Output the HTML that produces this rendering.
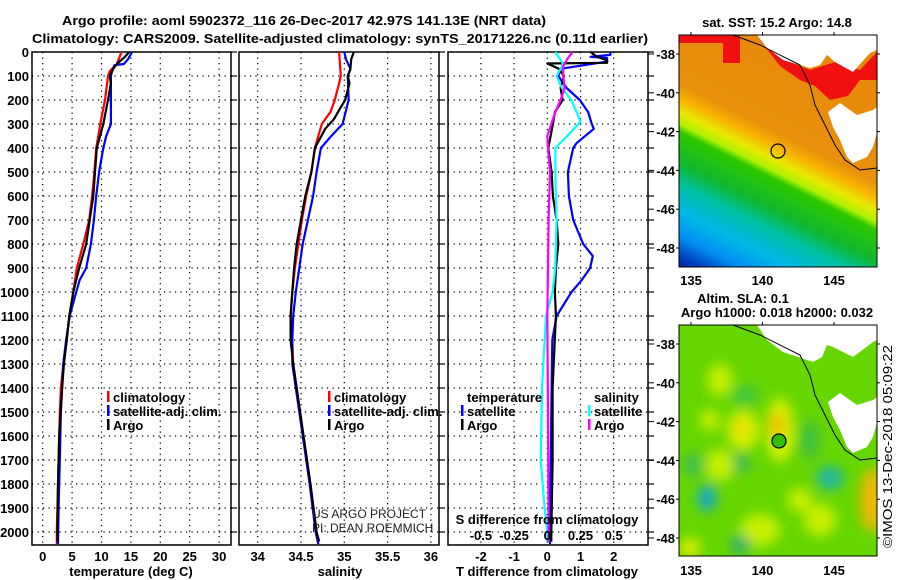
<!DOCTYPE html>
<html><head><meta charset="utf-8"><style>
html,body{margin:0;padding:0;background:#fff;width:900px;height:580px;overflow:hidden}
svg{display:block;font-family:"Liberation Sans",sans-serif}
.b{font-weight:bold;font-size:13px}
</style></head><body>
<svg id="chart" width="900" height="580" viewBox="0 0 900 580" xmlns="http://www.w3.org/2000/svg">
<defs>
<linearGradient id="sstGrad" gradientUnits="userSpaceOnUse" x1="800" y1="40" x2="640" y2="360">
<stop offset="0" stop-color="#e8880a"/>
<stop offset="0.26" stop-color="#e8900c"/><stop offset="0.30" stop-color="#f8b800"/>
<stop offset="0.33" stop-color="#e8e800"/><stop offset="0.36" stop-color="#b0f000"/>
<stop offset="0.38" stop-color="#30c800"/>
<stop offset="0.46" stop-color="#10b830"/><stop offset="0.51" stop-color="#00c0a0"/>
<stop offset="0.58" stop-color="#00b8e8"/><stop offset="0.64" stop-color="#0090f0"/>
<stop offset="0.69" stop-color="#0040c0"/><stop offset="0.73" stop-color="#001880"/>
</linearGradient>
<filter id="blur6"><feGaussianBlur stdDeviation="6"/></filter>
<clipPath id="clipMap1"><rect x="679" y="35" width="198" height="232"/></clipPath>
<clipPath id="clipMap2"><rect x="679" y="325" width="198" height="231"/></clipPath>
</defs>

<text class="b" x="62" y="25" font-size="14" textLength="484" lengthAdjust="spacingAndGlyphs">Argo profile: aoml 5902372_116 26-Dec-2017 42.97S 141.13E (NRT data)</text>
<text class="b" x="32" y="43" font-size="14" textLength="616" lengthAdjust="spacingAndGlyphs">Climatology: CARS2009. Satellite-adjusted climatology: synTS_20171226.nc (0.11d earlier)</text>

<g id="p1"></g>
<g id="p2"></g>
<g id="p3"></g>

<!-- SST map -->
<g>
<g clip-path="url(#clipMap1)">
<rect x="679" y="35" width="198" height="232" fill="url(#sstGrad)"/>
<polygon fill="#f01010" points="679,35 740,35 740,63 723,63 723,43 679,43"/>
<polygon fill="#f01010" points="760,40 790,62 810,70 835,62 860,70 877,52 877,80 860,80 848,96 830,100 815,86 800,80 780,66"/>
</g>
</g>
<text class="b" x="777" y="27" text-anchor="middle">sat. SST: 15.2 Argo: 14.8</text>

<!-- SLA map -->
<g>
<g clip-path="url(#clipMap2)">
<rect x="679" y="325" width="198" height="231" fill="#66d600"/>
<g filter="url(#blur6)">
<ellipse cx="720" cy="380" rx="12" ry="16" fill="#c8f000"/>
<ellipse cx="745" cy="395" rx="14" ry="10" fill="#40c840"/>
<ellipse cx="743" cy="430" rx="16" ry="20" fill="#d8f000"/>
<ellipse cx="780" cy="430" rx="14" ry="32" fill="#d8f000"/>
<ellipse cx="777" cy="425" rx="8" ry="12" fill="#f0c000"/>
<ellipse cx="740" cy="428" rx="8" ry="8" fill="#e8d800"/>
<ellipse cx="740" cy="463" rx="10" ry="10" fill="#38b858"/>
<ellipse cx="720" cy="465" rx="14" ry="16" fill="#c8f000"/>
<ellipse cx="707" cy="498" rx="10" ry="14" fill="#20b0a8"/>
<ellipse cx="707" cy="498" rx="5" ry="7" fill="#10a0d8"/>
<ellipse cx="693" cy="465" rx="10" ry="12" fill="#40c050"/>
<ellipse cx="830" cy="478" rx="14" ry="12" fill="#20b8a0"/>
<ellipse cx="872" cy="500" rx="12" ry="32" fill="#f0b800"/>
<ellipse cx="760" cy="530" rx="20" ry="16" fill="#c8f000"/>
<ellipse cx="820" cy="520" rx="16" ry="16" fill="#c8f000"/>
<ellipse cx="690" cy="548" rx="10" ry="10" fill="#e0f000"/>
<ellipse cx="740" cy="545" rx="10" ry="10" fill="#30b070"/>
<ellipse cx="810" cy="440" rx="10" ry="20" fill="#40c040"/>
<ellipse cx="710" cy="420" rx="10" ry="10" fill="#c8f000"/>
<ellipse cx="800" cy="500" rx="12" ry="12" fill="#c8f000"/>
</g>
</g>
</g>
<text class="b" x="743" y="303" text-anchor="middle">Altim. SLA: 0.1</text>
<text class="b" x="777" y="317" text-anchor="middle">Argo h1000: 0.018 h2000: 0.032</text>
<text font-size="13" transform="translate(892,548) rotate(-90)" textLength="203" lengthAdjust="spacingAndGlyphs">©IMOS 13-Dec-2018 05:09:22</text>

<text x="312" y="518" font-size="12" fill="#222">US ARGO PROJECT</text>
<text x="312" y="532" font-size="12" fill="#222">PI: DEAN ROEMMICH</text>

<!-- land + overlays drawn last -->
<g>
<path fill="#ffffff" stroke="none" d="M757,35 L766,47 L783,60 L810,68 L820,65 L827,55 L835,62 L853,72 L870,53 L877,50 L877,35 Z"/>
<path fill="#ffffff" stroke="none" d="M828,112 L840,103 L857,115 L873,110 L877,107 L877,133 L873,147 L867,157 L853,163 L847,157 L840,140 L833,127 Z"/>
<polyline fill="none" stroke="#000" stroke-width="1" points="733,35 760,45 800,65 810,85 815,105 825,125 835,145 845,160 860,170 877,168"/>
<circle cx="778" cy="151" r="7" fill="none" stroke="#000" stroke-width="1.2"/>
<rect x="679" y="35" width="198" height="232" fill="none" stroke="#000" stroke-width="1"/>
</g>
<g>
<path fill="#ffffff" stroke="none" d="M757,325 L767,340 L783,352 L813,362 L822,357 L827,345 L833,347 L853,357 L873,342 L877,340 L877,325 Z"/>
<path fill="#ffffff" stroke="none" d="M828,402 L840,393 L857,405 L873,400 L877,397 L877,423 L873,437 L867,447 L853,453 L847,447 L840,430 L833,417 Z"/>
<polyline fill="none" stroke="#000" stroke-width="1" points="733,325 760,335 800,355 810,375 815,395 825,415 835,435 845,450 860,460 877,458"/>
<circle cx="779" cy="441" r="7" fill="#30c000" stroke="#000" stroke-width="1.2"/>
<rect x="679" y="325" width="198" height="231" fill="none" stroke="#000" stroke-width="1"/>
</g>
</svg>
<script>
// ---- data ----
const depthTicks = [0,100,200,300,400,500,600,700,800,900,1000,1100,1200,1300,1400,1500,1600,1700,1800,1900,2000];
const tempTicks = [0,5,10,15,20,25,30];
const salTicks = [34,34.5,35,35.5,36];
const salTickLabels = ["34","34.5","35","35.5","36"];
const tdiffTicks = [-2,-1,0,1,2];
const sdiffTicks = [-0.5,-0.25,0,0.25,0.5];
const sdiffTickLabels = ["-0.5","-0.25","0","0.25","0.5"];
const latTicks = [-38,-40,-42,-44,-46,-48];
const lonTicks = [135,140,145];

const climT_d=[0,50,80,100,200,300,400,500,600,700,800,900,1000,1100,1200,1300,1400,1500,1600,1800,2000,2050];
const climT=[13.4,12.6,11.4,11.1,10.6,9.8,9.1,8.8,8.4,7.9,6.9,5.8,5.2,4.6,4.0,3.5,3.1,2.9,2.8,2.6,2.4,2.4];
const satT_d=[0,30,50,55,80,100,200,300,350,400,500,600,700,800,900,950,1000,1100,1200,1300,1500,1700,1900,2050];
const satT=[15.2,14.5,13.8,12.2,11.8,11.6,11.6,11.6,10.8,10.3,9.6,9.1,8.7,8.2,7.4,6.3,5.7,4.6,4.0,3.5,3.1,2.9,2.7,2.6];
const argoT_d=[0,20,50,70,100,130,200,300,400,500,600,700,800,900,1000,1100,1200,1300,1400,1600,1800,2000,2040];
const argoT=[14.7,14.0,12.6,12.0,11.4,11.6,11.1,10.3,9.2,8.9,8.6,8.0,7.4,6.2,5.2,4.5,4.1,3.6,3.3,2.8,2.6,2.5,2.5];

const climS_d=[0,100,130,200,250,300,350,400,500,600,700,800,900,1000,1100,1200,1300,1500,1800,2000,2050];
const climS=[34.94,34.96,34.94,34.89,34.84,34.74,34.70,34.66,34.62,34.56,34.51,34.47,34.43,34.40,34.38,34.40,34.41,34.49,34.60,34.67,34.70];
const satS_d=[0,30,70,100,200,300,350,400,500,600,700,800,900,1000,1100,1200,1300,1500,1800,2000,2050];
const satS=[35.0,35.02,35.07,35.04,35.05,34.98,34.85,34.73,34.68,34.64,34.58,34.52,34.48,34.44,34.41,34.40,34.40,34.48,34.60,34.67,34.70];
const argoS_d=[0,30,70,100,130,200,230,280,320,400,500,600,700,800,900,1000,1100,1200,1300,1500,1800,2000,2040];
const argoS=[35.11,35.08,35.07,35.04,35.06,35.01,34.96,34.88,34.78,34.66,34.62,34.55,34.50,34.45,34.42,34.40,34.38,34.38,34.41,34.49,34.61,34.68,34.71];

const dTsat_d=[0,12,20,25,40,55,70,100,150,200,250,300,320,380,400,500,600,700,800,850,900,950,1000,1100,1200,1500,2000,2050];
const dTsat=[1.9,1.9,1.3,1.8,1.8,1.1,0.4,0.33,0.58,0.98,1.23,1.34,1.4,0.88,0.78,0.62,0.65,0.78,1.08,1.37,1.29,1.04,0.73,0.28,0.15,0.12,0.08,0.08];
const dTargo_d=[0,20,35,45,48,70,100,150,200,250,300,400,500,600,700,800,900,1000,1100,1400,1700,2000,2040];
const dTargo=[1.3,1.5,1.8,1.8,0.0,0.35,0.5,0.4,0.46,0.23,0.17,0.03,0.13,0.17,0.28,0.33,0.26,0.23,0.26,0.16,0.16,0.12,0.12];
const dSsat_d=[0,50,100,150,200,250,290,350,400,500,700,900,1000,1100,1400,1700,1900,2000,2040];
const dSsat=[0.06,0.12,0.07,0.11,0.18,0.22,0.25,0.15,0.06,0.06,0.07,0.06,0.04,-0.01,-0.04,-0.05,-0.02,0.0,0.0];
const dSargo_d=[0,30,60,100,150,200,250,300,350,400,500,700,900,1100,1500,2000,2040];
const dSargo=[0.19,0.15,0.12,0.12,0.13,0.10,0.06,0.03,0.0,0.005,0.02,0.01,0.005,0.0,0.005,0.01,0.01];

// ---- axes ----
const NS='http://www.w3.org/2000/svg';
const TOP=52, BOT=545;
const yD = d => TOP + 0.24*d;
const xT = t => 42.7 + 5.88*t;
const xS = s => 257.7 + 86.6*(s-34);
const xTd = t => 547.3 + 33.2*t;
const xSd = s => 547.3 + 132.8*s;
const yLat1 = l => 54 + (-38-l)*19.4;
const yLat2 = l => 344 + (-38-l)*19.4;
const xLon = l => 691 + (l-135)*14.3;

function mk(tag, parent, attrs){const e=document.createElementNS(NS,tag);for(const k in attrs)e.setAttribute(k,attrs[k]);parent.appendChild(e);return e;}
function txt(parent, x, y, s, anchor){const t=mk('text',parent,{x:x,y:y,'class':'b','text-anchor':anchor||'middle'});t.textContent=s;return t;}

function panel(g, x0, x1, vgrid, xf){
  mk('rect',g,{x:x0,y:TOP,width:x1-x0,height:BOT-TOP,fill:'#fff'});
  depthTicks.forEach(d=>{ if(d>0){const l=mk('line',g,{x1:x0,x2:x1,y1:yD(d),y2:yD(d),stroke:'#000','stroke-width':1.2,'stroke-dasharray':'1.2,4.3'});
    
    }
    mk('line',g,{x1:x1,x2:x1+6,y1:yD(d),y2:yD(d),stroke:'#000','stroke-width':1.2});});
  vgrid.forEach(v=>{const l=mk('line',g,{x1:xf(v),x2:xf(v),y1:TOP,y2:BOT,stroke:'#000','stroke-width':1.2,'stroke-dasharray':'1.2,4.3'});
    
    });
  const r=mk('rect',g,{x:x0,y:TOP,width:x1-x0,height:BOT-TOP,fill:'none',stroke:'#000','stroke-width':1.5});
  
  
}
function series(g, ds, vs, xf, color, name){
  const pts = ds.map((d,i)=>xf(vs[i]).toFixed(1)+','+yD(d).toFixed(1)).join(' ');
  const p=mk('polyline',g,{points:pts,fill:'none',stroke:color,'stroke-width':2.2,'stroke-linejoin':'round'});
  
  
}
function legend(g, x, y, color, label){
  if(color){const r=mk('rect',g,{x:x-6,y:y-11,width:2.5,height:11,fill:color});
    
    }
  const t=txt(g,x,y,label,'start');
  
  
}

// panel 1
const p1=document.getElementById('p1');
panel(p1,32,231,tempTicks,xT);
depthTicks.forEach(d=>{const t=txt(p1,29,yD(d)+5,String(d),'end');
  
  });
tempTicks.forEach(v=>{const t=txt(p1,xT(v),561,String(v));
  
  });
const xl1=txt(p1,131,576,'temperature (deg C)');


series(p1,climT_d,climT,xT,'#ff0000','climatology-temperature-line');
series(p1,satT_d,satT,xT,'#0000ff','satellite-temperature-line');
series(p1,argoT_d,argoT,xT,'#000000','argo-temperature-line');
legend(p1,113,402,'#ff0000','climatology');
legend(p1,113,416,'#0000ff','satellite-adj. clim.');
legend(p1,113,430,'#000000','Argo');

// panel 2
const p2=document.getElementById('p2');
panel(p2,239,439,salTicks,xS);
salTicks.forEach((v,i)=>{const t=txt(p2,xS(v),561,salTickLabels[i]);
  
  });
const xl2=txt(p2,340,576,'salinity');


series(p2,climS_d,climS,xS,'#ff0000','climatology-salinity-line');
series(p2,satS_d,satS,xS,'#0000ff','satellite-salinity-line');
series(p2,argoS_d,argoS,xS,'#000000','argo-salinity-line');
legend(p2,334,402,'#ff0000','climatology');
legend(p2,334,416,'#0000ff','satellite-adj. clim.');
legend(p2,334,430,'#000000','Argo');

// panel 3
const p3=document.getElementById('p3');
panel(p3,448,648,tdiffTicks,xTd);
tdiffTicks.forEach(v=>{const t=txt(p3,xTd(v),561,String(v));
  
  });
const xl3=txt(p3,547,576,'T difference from climatology');


series(p3,dTsat_d,dTsat,xTd,'#0000ff','satellite-t-difference-line');
series(p3,dTargo_d,dTargo,xTd,'#000000','argo-t-difference-line');
series(p3,dSsat_d,dSsat,xSd,'#00ffff','satellite-s-difference-line');
series(p3,dSargo_d,dSargo,xSd,'#ff00ff','argo-s-difference-line');
const sl=txt(p3,547,524,'S difference from climatology');


sdiffTicks.forEach((v,i)=>{const t=txt(p3,xSd(v),540,sdiffTickLabels[i]);
  
  });
legend(p3,467,402,null,'temperature');
legend(p3,467,416,'#0000ff','satellite');
legend(p3,467,430,'#000000','Argo');
legend(p3,594,402,null,'salinity');
legend(p3,594,416,'#00ffff','satellite');
legend(p3,594,430,'#ff00ff','Argo');

// map axes
const svg=document.getElementById('chart');
latTicks.forEach(l=>{
  const a=txt(svg,675,yLat1(l)+5,String(l),'end');
  
  
  const b=txt(svg,675,yLat2(l)+5,String(l),'end');
  
  
  [yLat1(l),yLat2(l)].forEach(y=>{mk('line',svg,{x1:676,x2:679,y1:y,y2:y,stroke:'#000'});mk('line',svg,{x1:877,x2:880,y1:y,y2:y,stroke:'#000'});mk('line',svg,{x1:648,x2:654,y1:y,y2:y,stroke:'#000'});});
});
lonTicks.forEach(l=>{
  const a=txt(svg,xLon(l),285,String(l));
  
  
  const b=txt(svg,xLon(l),575,String(l));
  
  
  mk('line',svg,{x1:xLon(l),x2:xLon(l),y1:32,y2:35,stroke:'#000'});
  mk('line',svg,{x1:xLon(l),x2:xLon(l),y1:322,y2:325,stroke:'#000'});
});
</script>
</body></html>
